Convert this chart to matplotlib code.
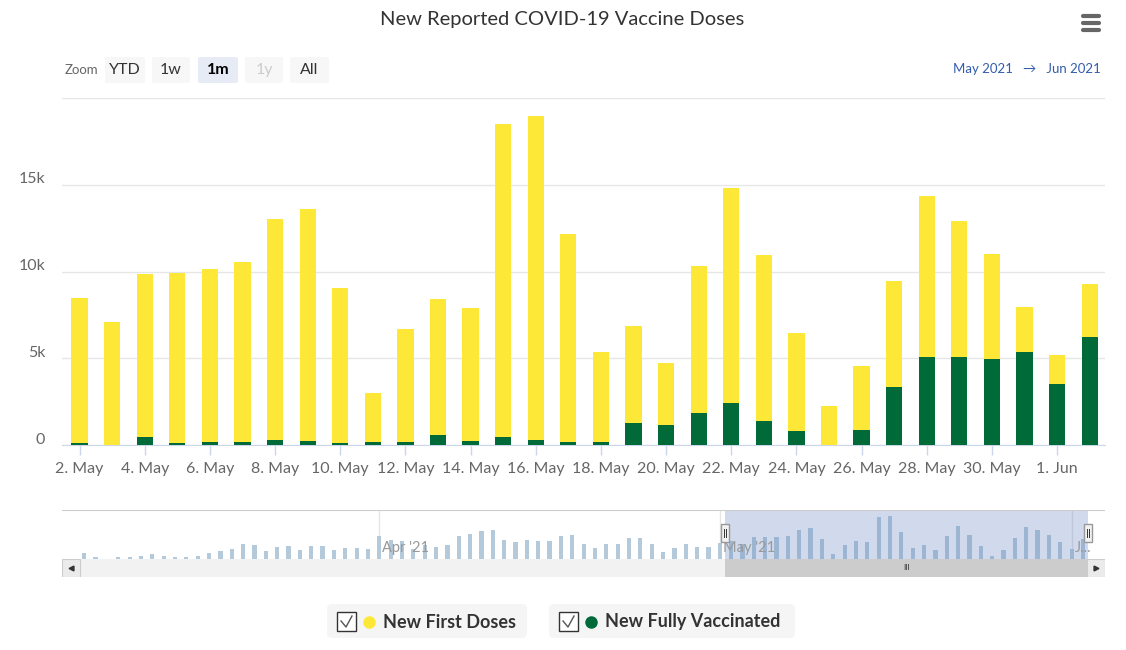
import matplotlib.pyplot as plt
import matplotlib.transforms as mtransforms
import pandas as pd
from matplotlib.patches import FancyBboxPatch, Rectangle

plt.rcParams['font.family'] = ['Lato', 'DejaVu Sans']

# --- datos del gráfico principal (2 May - 2 Jun 2021) ---
days = pd.date_range('2021-05-02', '2021-06-02')
first_doses = [8390, 7100, 9410, 9840, 9970, 10350, 12740, 13400, 8970, 2800, 6530, 7820, 7690, 18070, 18670,
               11990, 5200, 5620, 3550, 8460, 12380, 9560, 5640, 2240, 3690, 6080, 9240, 7800, 6060, 2600, 1720, 3020]
fully_vaccinated = [100, 0, 440, 100, 170, 170, 310, 230, 100, 170, 170, 600, 230, 460, 310,
                    170, 170, 1250, 1180, 1830, 2410, 1390, 810, 0, 890, 3360, 5100, 5100, 4940, 5370, 3490, 6250]

# --- navegador: dosis totales antes del 2 May (5 Mar - 1 May) ---
nav_start = '2021-03-05'
nav_early_totals = [800, 3490, 1540, 800, 1540, 1820, 1960, 2800, 2240, 1680, 1680, 2100, 3490, 4050, 5030,
                    7260, 6710, 4190, 5730, 6150, 4470, 6430, 6430, 4750, 5590, 5450, 5030,
                    10620, 8940, 8520, 5030, 6850, 5730, 6710, 10340, 11450, 12430, 12990, 8940, 7820, 8800,
                    8240, 8520, 10340, 10900, 7120, 5310, 7120, 7120, 9780, 9780, 7120, 3630, 5310, 7120,
                    6010, 6010, 7500]

YELLOW = '#FDE838'
GREEN = '#006B38'
NAV_BAR = '#B4CADB'

W, H = 1126, 650
fig = plt.figure(figsize=(W / 100, H / 100), dpi=100)

# capa de fondo en pixeles para los elementos de interfaz
ov = fig.add_axes([0, 0, 1, 1], zorder=0)
ov.set_xlim(0, W)
ov.set_ylim(H, 0)
ov.axis('off')

ov.text(562, 20, 'New Reported COVID-19 Vaccine Doses', ha='center', va='center', fontsize=14.5, color='#333333')
for yy in (16, 23, 30):
    ov.plot([1083, 1099], [yy, yy], color='#666666', lw=3, solid_capstyle='round')

# botones de zoom
ov.text(81, 70, 'Zoom', ha='center', va='center', fontsize=9.5, color='#666666')
buttons = ['YTD', '1w', '1m', '1y', 'All']
btn_x = [(105, 145), (152, 190), (198, 238), (245, 283), (290, 329)]
for lab, (x0, x1) in zip(buttons, btn_x):
    sel = lab == '1m'
    ov.add_patch(FancyBboxPatch((x0, 57), x1 - x0, 26, boxstyle='round,pad=0,rounding_size=2',
                                fc='#E6EBF5' if sel else '#F7F7F7', ec='none'))
    col = '#000000' if sel else ('#CCCCCC' if lab == '1y' else '#333333')
    ov.text((x0 + x1) / 2, 70, lab, ha='center', va='center', fontsize=11.5, color=col,
            fontweight='bold' if sel else 'normal')
ov.text(1101, 69, 'May 2021   \u2192   Jun 2021', ha='right', va='center', fontsize=9.5, color='#335CAD',
        family=['Lato', 'DejaVu Sans'])

# leyenda
legend_items = [('New First Doses', YELLOW, 327, 527), ('New Fully Vaccinated', GREEN, 549, 795)]
for lab, col, x0, x1 in legend_items:
    ov.add_patch(FancyBboxPatch((x0, 604), x1 - x0, 34, boxstyle='round,pad=0,rounding_size=5',
                                fc='#F5F5F5', ec='none'))
    ov.add_patch(Rectangle((x0 + 10, 612), 19, 19, fc='white', ec='#333333', lw=1))
    ov.plot([x0 + 14, x0 + 19, x0 + 25], [621, 627, 616], color='#555555', lw=1)
    ov.plot([x0 + 42], [622], marker='o', ms=9, color=col, mec='none')
    ov.text(x0 + 56, 622, lab, ha='left', va='center', fontsize=13, fontweight='bold', color='#333333')

# --- gráfico principal ---
ax = fig.add_axes([62 / W, 1 - 445 / H, (1105 - 62) / W, (445 - 98) / H], zorder=2)
ax.set_facecolor('none')
x = list(range(len(days)))
ax.bar(x, fully_vaccinated, width=0.5, color=GREEN, zorder=3)
ax.bar(x, first_doses, width=0.5, bottom=fully_vaccinated, color=YELLOW, zorder=3)
main_xlim = (-0.54, 31.47)
ax.set_xlim(*main_xlim)
ax.set_ylim(0, 20000)
ax.set_yticks([0, 5000, 10000, 15000, 20000])
ax.set_yticklabels(['0', '5k', '10k', '15k', ''])
ax.grid(axis='y', color='#E6E6E6', lw=1, zorder=0)
for s in ('top', 'right', 'left'):
    ax.spines[s].set_visible(False)
ax.spines['bottom'].set_color('#CCD6EB')
ax.tick_params(axis='y', length=0, pad=12, labelsize=11.5, labelcolor='#666666')
shift = mtransforms.ScaledTranslation(0, 0.07, fig.dpi_scale_trans)
for t in ax.get_yticklabels():
    t.set_transform(t.get_transform() + shift)
ax.set_xticks(x[::2])
ax.set_xticklabels([f'{d.day}. {d.strftime("%b")}' for d in days[::2]])
ax.tick_params(axis='x', length=7.5, width=1, color='#CCD6EB', pad=4.5, labelsize=11.5, labelcolor='#666666')

# --- navegador ---
nav_days = pd.date_range(nav_start, '2021-06-02')
ref = pd.Timestamp('2021-04-01')
nav_x = [(d - ref).days for d in nav_days]
main_totals = [a + b for a, b in zip(first_doses, fully_vaccinated)]
nav_vals = nav_early_totals + main_totals
nav = fig.add_axes([62 / W, 1 - 559 / H, (1105 - 62) / W, (559 - 510) / H], zorder=1)
nav.set_facecolor('none')
nav.bar(nav_x, nav_vals, width=0.37, color=NAV_BAR, zorder=2)
nav.set_xlim(-27.96, 63.94)
nav.set_ylim(840, 21370)
nav.axis('off')
off0 = (days[0] - ref).days
mask_lo, mask_hi = off0 + main_xlim[0], off0 + main_xlim[1]
nav.axvspan(mask_lo, mask_hi, color='#6685C2', alpha=0.3, lw=0, zorder=3)
nav.axhline(21370, color='#CCCCCC', lw=1.5, zorder=4)
for dd, lab in ((pd.Timestamp('2021-04-01'), "Apr '21"), (pd.Timestamp('2021-05-01'), "May '21"),
                (pd.Timestamp('2021-06-01'), 'J...')):
    xv = (dd - ref).days
    nav.axvline(xv, color='#E6E6E6', lw=1, zorder=1)
    nav.text(xv + 0.25, 0.22, lab, transform=nav.get_xaxis_transform(), ha='left', va='center',
             fontsize=10.5, color='#999999', zorder=5)
for xv in (mask_lo, mask_hi):
    nav.add_patch(Rectangle((xv - 0.35, 0.35), 0.7, 0.37, transform=nav.get_xaxis_transform(),
                            fc='#F2F2F2', ec='#999999', lw=1, zorder=6, clip_on=False))
    for dx in (-0.1, 0.1):
        nav.plot([xv + dx, xv + dx], [0.45, 0.62], transform=nav.get_xaxis_transform(),
                 color='#333333', lw=0.7, zorder=7, clip_on=False)

# --- barra de desplazamiento ---
sb = fig.add_axes([62 / W, 1 - 577 / H, (1105 - 62) / W, 18 / H], zorder=1)
sb.set_xlim(nav.get_xlim())
sb.set_ylim(0, 1)
sb.axis('off')
sb.add_patch(Rectangle((0, 0), 1, 1, transform=sb.transAxes, fc='#F2F2F2', ec='none'))
sb.axvspan(mask_lo, mask_hi, color='#CCCCCC', lw=0)
sb.text((mask_lo + mask_hi) / 2, 0.5, 'III', ha='center', va='center', fontsize=6, color='#333333')
bw = 18 / (1105 - 62)
for x0, mk in ((0, '<'), (1 - bw, '>')):
    sb.add_patch(Rectangle((x0, 0), bw, 1, transform=sb.transAxes, fc='#EBEBEB', ec='#CCCCCC', lw=0.8))
    sb.plot([x0 + bw / 2], [0.5], transform=sb.transAxes, marker=mk, ms=3.5, color='#333333')

fig.savefig('out.png', dpi=100)
